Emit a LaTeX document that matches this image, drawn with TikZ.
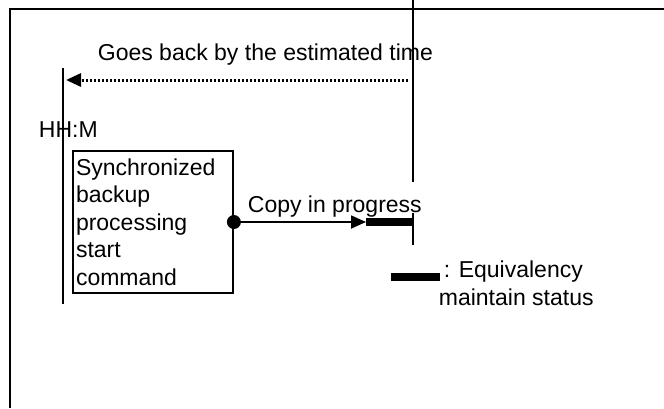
\documentclass[tikz,border=0pt]{standalone}
\usepackage{fontspec}
\setmainfont{Liberation Sans}
\usepackage{xcolor}
\usepackage{tikz}
\usetikzlibrary{arrows.meta}

\begin{document}
\begin{tikzpicture}[x=1pt,y=-1pt,line width=1.8pt,
    txt/.style={font=\fontsize{23}{27.5}\selectfont, inner sep=0pt},
    cmdbox/.style={draw, txt, align=left, text width=154pt, minimum width=160pt,
        minimum height=142pt, inner xsep=3pt},
    eqbar/.style={line width=8pt}]
    \useasboundingbox (0,0) rectangle (664,408);
    \draw[line width=2.2pt] (10,408) -- (10,9) -- (664,9);
    %绘制(draw)外框,左边和上边
    \coordinate (tTop) at (413,0);
    \coordinate (tUp) at (413,182);
    \coordinate (tLow) at (413,213);
    \coordinate (tEnd) at (413,245);
    \draw (tTop) -- (tUp);
    \draw (tLow) -- (tEnd);
    %绘制(draw)右侧竖线,文字处断开
    \coordinate (hhTop) at (63,68);
    \coordinate (hhEnd) at (63,304);
    \draw (hhTop) -- (hhEnd);
    %绘制(draw)左侧竖线(HH:M)
    \node[txt, anchor=base west] (goes) at (97,60) {Goes back by the estimated time};
    \coordinate (backR) at (408,80);
    \coordinate (backL) at (66,80);
    \draw[line width=3pt, dash pattern=on 2.5pt off 1.5pt, -{Triangle[length=15pt,width=13pt]}] (backR) -- (backL);
    %绘制(draw)虚线箭头,向左
    \node[txt, anchor=base west] (hhm) at (38,137) {HH:M};
    \node[cmdbox] (cmd) at (153,222) {Synchronized\\backup\\processing\\start\\command};
    %命令框(cmd)
    \coordinate (barL) at (366,222);
    \coordinate (barR) at (413,222);
    \fill (cmd.east) circle (7);
    \draw[-{Triangle[length=15pt,width=13pt]}] (cmd.east) -- (barL);
    \draw[eqbar] (barL) -- (barR);
    \node[txt, anchor=base west] (copy) at (247,212) {Copy in progress};
    %绘制(draw)复制中箭头和粗线
    \coordinate (keyL) at (391,277);
    \coordinate (keyR) at (440,277);
    \draw[eqbar] (keyL) -- (keyR);
    \node[txt, anchor=base west] (eqv) at (443,277) {: Equivalency};
    \node[txt, anchor=base west] (mnt) at (438,305) {maintain status};
    %图例(eqbar)
\end{tikzpicture}
\end{document}
